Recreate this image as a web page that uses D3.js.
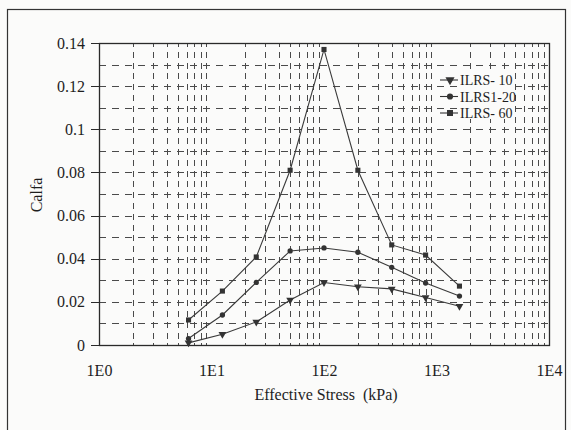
<!DOCTYPE html>
<meta charset="utf-8">
<style>
body { margin: 0; background-color: #fbfbfa; }
svg { display: block; }
text { font-family: "Liberation Serif", "DejaVu Serif", serif; fill: #1e1e1e; white-space: pre; }
.grid line { stroke: #4a4a4a; stroke-width: 1px; shape-rendering: crispEdges; }
.axis path, .axis line { stroke: #2a2a2a; stroke-width: 1px; shape-rendering: crispEdges; }
.series { fill: none; stroke: #3a3a3a; stroke-width: 1.1px; }
</style>
<svg class="chart" width="571" height="430"></svg>
<script src="https://cdn.jsdelivr.net/npm/d3@7"></script>
<script>
// stresses (kPa)
var stress = [6.25, 12.5, 25, 50, 100, 200, 400, 800, 1600];
var seriesNames = ["ILRS- 10", "ILRS1-20", "ILRS- 60"];
var ilrs10 = [0.001, 0.005, 0.0107, 0.0209, 0.029, 0.027, 0.026, 0.022, 0.018];
var ilrs20 = [0.003, 0.0139, 0.029, 0.0436, 0.045, 0.043, 0.036, 0.0287, 0.0227];
var ilrs60 = [0.0116, 0.025, 0.0408, 0.081, 0.137, 0.081, 0.0464, 0.0417, 0.0273];
var yTicks = [0, 0.02, 0.04, 0.06, 0.08, 0.1, 0.12, 0.14];
var xTickLabels = ["1E0", "1E1", "1E2", "1E3", "1E4"];

var svg = d3.select(".chart");

// outer frame
svg.append("rect")
    .attr("x", 7.5).attr("y", 9.5)
    .attr("width", 558).attr("height", 440)
    .attr("fill", "none").attr("stroke", "#333").attr("stroke-width", 1.2);

var x = d3.scaleLog().domain([1, 10000]).range([99, 549]);
var y = d3.scaleLinear().domain([0, 0.14]).range([345, 43]);

// grid
var minorX = [];
for (var e = 0; e < 4; e++) {
  for (var m = 2; m <= 9; m++) minorX.push(m * Math.pow(10, e));
}
var minorY = d3.range(1, 14).map(function(i) { return i / 100; });

var grid = svg.append("g").attr("class", "grid");
grid.selectAll(".h")
    .data(minorY)
  .enter().append("line")
    .attr("x1", x(1)).attr("x2", x(10000))
    .attr("y1", function(d) { return Math.round(y(d)) + 0.5; })
    .attr("y2", function(d) { return Math.round(y(d)) + 0.5; })
    .attr("stroke-dasharray", "7,6");
grid.selectAll(".v")
    .data(minorX)
  .enter().append("line")
    .attr("x1", function(d) { return Math.round(x(d)) + 0.5; })
    .attr("x2", function(d) { return Math.round(x(d)) + 0.5; })
    .attr("y1", y(0.14)).attr("y2", y(0))
    .attr("stroke-dasharray", "6,4.8")
    .attr("stroke-dashoffset", 2);

// plot frame
svg.append("rect")
    .attr("x", x(1) + 0.5).attr("y", y(0.14) + 0.5)
    .attr("width", x(10000) - x(1)).attr("height", y(0) - y(0.14))
    .attr("fill", "none").attr("stroke", "#2a2a2a").attr("stroke-width", 1.3);

// axes
svg.append("g")
    .attr("class", "axis")
    .attr("transform", "translate(" + x(1) + ",0)")
    .call(d3.axisLeft(y).tickValues(yTicks).tickSize(8).tickPadding(6)
      .tickFormat(function(d) { return d3.format("")(+d.toFixed(2)); }))
    .call(function(g) { g.select(".domain").remove(); })
    .selectAll("text").style("font-size", "16px").style("font-family", "Liberation Serif, serif");

svg.append("g")
    .attr("class", "axis")
    .attr("transform", "translate(0," + y(0) + ")")
    .call(d3.axisBottom(x).tickValues([1, 10, 100, 1000, 10000]).tickSize(0).tickPadding(20)
      .tickFormat(function(d, i) { return xTickLabels[i]; }))
    .call(function(g) { g.select(".domain").remove(); })
    .selectAll("text").style("font-size", "16px").style("font-family", "Liberation Serif, serif");

svg.append("text")
    .attr("x", 326).attr("y", 400)
    .attr("text-anchor", "middle")
    .style("font-size", "16px")
    .text("Effective Stress  (kPa)");

svg.append("text")
    .attr("transform", "translate(42,195) rotate(-90)")
    .attr("text-anchor", "middle")
    .style("font-size", "16px")
    .text("Calfa");

// series
var allSeries = [ilrs10, ilrs20, ilrs60];
var markers = [d3.symbolTriangle, d3.symbolCircle, d3.symbolSquare];
var line = d3.line()
    .x(function(d, i) { return x(stress[i]); })
    .y(function(d) { return y(d); });

allSeries.forEach(function(vals, k) {
  svg.append("path")
      .datum(vals)
      .attr("class", "series")
      .attr("d", line);
  svg.selectAll(".m" + k)
      .data(vals)
    .enter().append("path")
      .attr("transform", function(d, i) {
        return "translate(" + x(stress[i]) + "," + y(d) + ")" + (k === 0 ? " rotate(180)" : "");
      })
      .attr("d", d3.symbol().type(markers[k]).size(k === 1 ? 22 : 26))
      .attr("fill", "#333");
});

// legend
svg.append("rect")
    .attr("x", 459).attr("y", 70).attr("width", 56).attr("height", 49)
    .attr("fill", "#fbfbfa");
var legend = svg.append("g").attr("transform", "translate(440,80)");
seriesNames.forEach(function(name, k) {
  var row = legend.append("g").attr("transform", "translate(0," + (k * 16.5) + ")");
  row.append("line").attr("x1", 0).attr("x2", 18).attr("y1", 0).attr("y2", 0)
      .attr("stroke", "#333").attr("stroke-width", 1.1);
  row.append("path")
      .attr("transform", "translate(10,0)" + (k === 0 ? " rotate(180)" : ""))
      .attr("d", d3.symbol().type(markers[k]).size(k === 1 ? 30 : 36))
      .attr("fill", "#333");
  row.append("text").attr("x", 20).attr("y", 5)
      .style("font-size", "14px")
      .text(name);
});
</script>
